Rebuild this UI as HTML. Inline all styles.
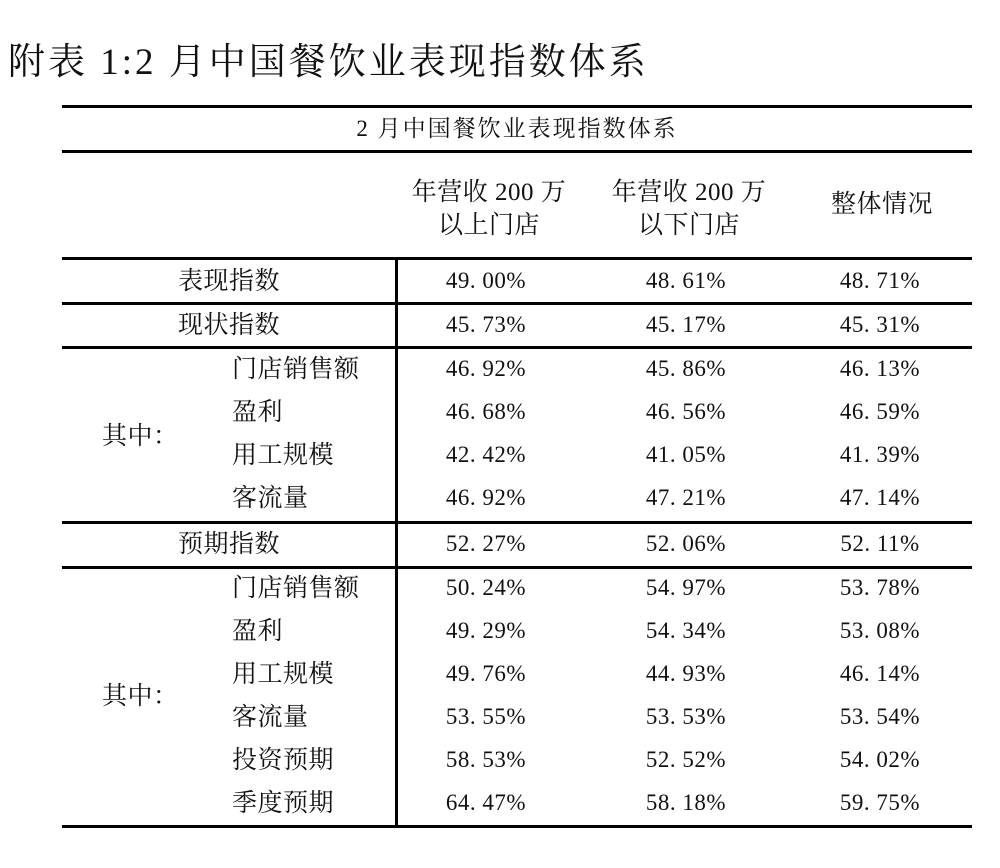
<!DOCTYPE html>
<html><head><meta charset="utf-8"><style>
body{margin:0;width:1000px;height:868px;background:#fff;position:relative;overflow:hidden;font-family:"Liberation Serif","Noto Serif CJK SC",serif;color:#111}
.t{position:absolute;white-space:nowrap;line-height:1}
.h{position:absolute;background:#000;left:62px;width:910px}
.c{transform:translateX(-50%)}
.n{font-size:23px;letter-spacing:0.5px}
.l{font-size:25px;letter-spacing:0.5px}
</style></head><body>
<div class="t" style="left:8px;top:44px;font-size:37px;letter-spacing:3px">附表 1:2 月中国餐饮业表现指数体系</div>
<div class="h" style="top:105px;height:3px"></div>
<div class="t c" style="left:517px;top:117px;font-size:23px;letter-spacing:2px">2 月中国餐饮业表现指数体系</div>
<div class="h" style="top:150px;height:3px"></div>
<div class="t c l" style="left:489px;top:176px;text-align:center;line-height:33px">年营收 200 万<br>以上门店</div>
<div class="t c l" style="left:689px;top:176px;text-align:center;line-height:33px">年营收 200 万<br>以下门店</div>
<div class="t c l" style="left:882px;top:192px">整体情况</div>
<div class="h" style="top:257px;height:3px"></div>
<div class="h" style="top:825px;height:3px"></div>
<div style="position:absolute;left:395px;top:258px;width:3px;height:569px;background:#000"></div>
<div id="rows"></div>
<script>
const labels=["表现指数","现状指数","门店销售额","盈利","用工规模","客流量","预期指数","门店销售额","盈利","用工规模","客流量","投资预期","季度预期"];
const kind=["main","main","sub","sub","sub","sub","main","sub","sub","sub","sub","sub","sub"];
const colA=["49.00%","45.73%","46.92%","46.68%","42.42%","46.92%","52.27%","50.24%","49.29%","49.76%","53.55%","58.53%","64.47%"];
const colB=["48.61%","45.17%","45.86%","46.56%","41.05%","47.21%","52.06%","54.97%","54.34%","44.93%","53.53%","52.52%","58.18%"];
const colC=["48.71%","45.31%","46.13%","46.59%","41.39%","47.14%","52.11%","53.78%","53.08%","46.14%","53.54%","54.02%","59.75%"];
const rowY=[282,326,370,413,456,499,545,589,632,675,718,761,804];
const rules=[302,346,521,566];
const R=document.getElementById('rows');
function txt(s,x,y,cls,name,center){const d=document.createElement('div');d.className='t '+cls+(center?' c':'');d.style.left=x+'px';d.style.top=(y-13)+'px';d.textContent=s;


R.appendChild(d);}
function fmt(v){return v.replace('.','. ');}
labels.forEach((lb,i)=>{
 if(kind[i]==='main')txt(lb,229,rowY[i],'l','row-label',true);else txt(lb,232,rowY[i],'l','row-sublabel',false);
 txt(fmt(colA[i]),486,rowY[i],'n','value-above-2m',true);
 txt(fmt(colB[i]),686,rowY[i],'n','value-below-2m',true);
 txt(fmt(colC[i]),880,rowY[i],'n','value-overall',true);
});
txt('其中：',102,437,'l','group-label-current',false);
txt('其中：',102,697,'l','group-label-expect',false);
rules.forEach(y=>{const d=document.createElement('div');d.className='h';d.style.top=y+'px';d.style.height='3px';


R.appendChild(d);});
</script>
</body></html>
